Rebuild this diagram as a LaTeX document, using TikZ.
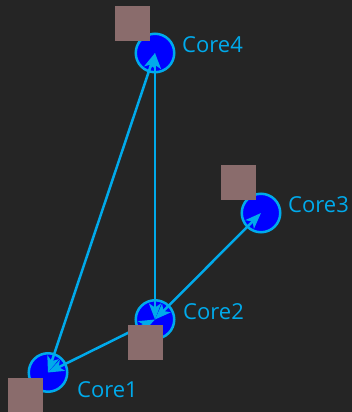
\documentclass[tikz,border=0pt]{standalone}
\usepackage{fontspec}
\setmainfont{Open Sans}
\usetikzlibrary{arrows.meta, positioning}
\definecolor{bg}{RGB}{37,37,37}
\definecolor{wire}{RGB}{0,170,235}
\definecolor{blk}{RGB}{138,108,108}

\begin{document}
\begin{tikzpicture}[x=1pt, y=-1pt,
  core/.style={circle, fill=blue, draw=wire, line width=2.5pt, minimum size=38.5pt, inner sep=0pt},
  blkbox/.style={fill=blk, minimum size=35pt, inner sep=0pt},
  corelbl/.style={text=wire, anchor=west, inner sep=0pt, font=\fontsize{22}{26}\selectfont},
  link/.style={wire, line width=2.5pt, {Stealth[length=16pt,width=12pt,inset=4pt]}-{Stealth[length=16pt,width=12pt,inset=4pt]}}]
  \fill[bg] (0,0) rectangle (352,412);
  \useasboundingbox (0,0) rectangle (352,412);

  \node[core] (c1) at (48,372.5) {};
  \node[core] (c2) at (155,319.5) {};
  \node[core] (c3) at (261,213) {};
  \node[core] (c4) at (155,53) {};

  \draw[link] (c1.center) -- (c4.center);
  \draw[link] (c2.center) -- (c4.center);
  \draw[link] (c1.center) -- (c2.center);
  \draw[link] (c2.center) -- (c3.center);

  \node[blkbox] (s1) at (25.3,395) {};
  \node[blkbox] (s2) at (145.3,342.5) {};
  \node[blkbox] (s3) at (238.5,182.5) {};
  \node[blkbox] (s4) at (132.5,23.5) {};

  \node[corelbl] (n1) at (77,390) {Core1};
  \node[corelbl] (n2) at (183,312) {Core2};
  \node[corelbl] (n3) at (288,205) {Core3};
  \node[corelbl] (n4) at (182,45) {Core4};
\end{tikzpicture}
\end{document}
